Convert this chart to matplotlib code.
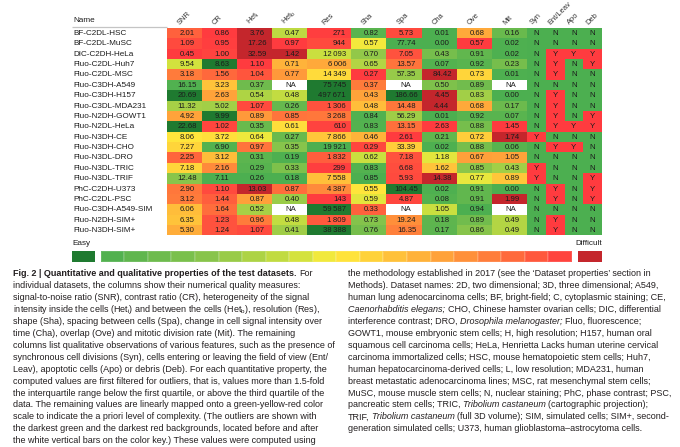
import numpy as np
import matplotlib
matplotlib.use("Agg")
import matplotlib.pyplot as plt
from matplotlib.colors import LinearSegmentedColormap, Normalize

# ---------------- data ----------------
names = ["BF-C2DL-HSC", "BF-C2DL-MuSC", "DIC-C2DH-HeLa", "Fluo-C2DL-Huh7", "Fluo-C2DL-MSC",
         "Fluo-C3DH-A549", "Fluo-C3DH-H157", "Fluo-C3DL-MDA231", "Fluo-N2DH-GOWT1", "Fluo-N2DL-HeLa",
         "Fluo-N3DH-CE", "Fluo-N3DH-CHO", "Fluo-N3DL-DRO", "Fluo-N3DL-TRIC", "Fluo-N3DL-TRIF",
         "PhC-C2DH-U373", "PhC-C2DL-PSC", "Fluo-C3DH-A549-SIM", "Fluo-N2DH-SIM+", "Fluo-N3DH-SIM+"]

headers = ["SNR", "CR", r"Het$_\mathregular{i}$", r"Het$_\mathregular{b}$", "Res", "Sha", "Spa",
           "Cha", "Ove", "Mit", "Syn", "Ent/Leav", "Apo", "Deb"]

snr = [2.01, 1.09, 0.45, 9.54, 3.18, 16.15, 20.69, 11.32, 4.92, 22.68, 8.06, 7.27, 2.25, 7.18, 12.48, 2.90, 3.12, 6.06, 6.35, 5.30]
cr = [0.86, 0.95, 1.00, 8.63, 1.56, 3.23, 2.63, 5.02, 9.99, 1.02, 3.72, 6.90, 3.12, 2.16, 7.11, 1.10, 1.44, 1.64, 1.23, 1.24]
het_i = [3.76, 17.26, 32.59, 1.10, 1.04, 0.37, 0.54, 1.07, 0.89, 0.35, 0.64, 0.97, 0.31, 0.29, 0.26, 13.03, 0.87, 0.52, 0.96, 1.07]
het_b = [0.47, 0.97, 1.42, 0.71, 0.77, None, 0.48, 0.26, 0.85, 0.61, 0.27, 0.35, 0.19, 0.33, 0.18, 0.87, 0.40, None, 0.48, 0.41]
res = [271, 944, 12093, 6006, 14349, 75745, 497671, 1306, 3268, 610, 7866, 19921, 1832, 299, 7558, 4387, 143, 59587, 1809, 38388]
sha = [0.82, 0.57, 0.70, 0.65, 0.27, 0.37, 0.43, 0.48, 0.84, 0.83, 0.46, 0.29, 0.62, 0.83, 0.85, 0.55, 0.59, 0.33, 0.73, 0.76]
spa = [5.73, 77.74, 7.05, 13.57, 57.35, None, 186.66, 14.48, 56.29, 13.15, 2.61, 33.39, 7.18, 6.68, 5.93, 104.45, 4.87, None, 19.24, 16.35]
cha = [0.01, 0.00, 0.43, 0.07, 84.42, 0.50, 4.45, 4.44, 0.01, 2.63, 0.21, 0.02, 1.18, 1.62, 14.38, 0.02, 0.08, 1.05, 0.18, 0.17]
ove = [0.68, 0.57, 0.91, 0.92, 0.73, 0.89, 0.83, 0.68, 0.92, 0.88, 0.72, 0.88, 0.67, 0.85, 0.77, 0.91, 0.91, 0.94, 0.89, 0.86]
mit = [0.16, 0.02, 0.02, 0.23, 0.01, None, 0.00, 0.17, 0.07, 1.45, 1.74, 0.06, 1.05, 0.43, 0.89, 0.00, 1.99, None, 0.49, 0.49]

syn = "NNNNNNNNNNYNNYYNNNNN"
ent_leav = "NNYYYNYYYYNYNNNYYNYY"
apo = "NNYNNNNNNYNYNNNNNNNN"
deb = "NNYYNNNNYYNNNNYYYNNN"

# difficulty level (0 green .. 1 red; -1 darkest green, 2 darkest red)
snr_lvl = [0.90, 0.96, 1.00, 0.42, 0.83, 0.02, -1, 0.31, 0.72, -1, 0.52, 0.57, 0.89, 0.57, 0.23, 0.84, 0.83, 0.64, 0.62, 0.69]
cr_lvl = [1.00, 0.99, 0.98, -1, 0.88, 0.62, 0.72, 0.30, -1, 0.97, 0.54, 0.03, 0.64, 0.79, 0.00, 0.96, 0.91, 0.87, 0.94, 0.94]
het_i_lvl = [2, 2, 2, 1.00, 0.93, 0.13, 0.33, 0.96, 0.75, 0.11, 0.47, 0.85, 0.06, 0.04, 0.00, 2, 0.73, 0.31, 0.83, 0.96]
het_b_lvl = [0.37, 1.00, 2, 0.67, 0.75, None, 0.38, 0.10, 0.85, 0.54, 0.11, 0.22, 0.01, 0.19, 0.00, 0.87, 0.28, None, 0.38, 0.29]
res_lvl = [0.99, 0.96, 0.40, 0.70, 0.55, -1, -1, 0.94, 0.84, 0.98, 0.61, 0.00, 0.91, 0.99, 0.63, 0.79, 1.00, -1, 0.92, -1]
sha_lvl = [0.05, 0.48, 0.26, 0.34, 1.00, 0.83, 0.72, 0.64, 0.02, 0.03, 0.67, 0.97, 0.40, 0.03, 0.00, 0.52, 0.45, 0.90, 0.21, 0.16]
spa_lvl = [0.96, 0.00, 0.94, 0.85, 0.27, None, -1, 0.84, 0.29, 0.86, 1.00, 0.59, 0.94, 0.95, 0.96, -1, 0.97, None, 0.78, 0.82]
cha_lvl = [0.00, 0.00, 0.16, 0.03, 2, 0.19, 2, 2, 0.00, 1.00, 0.08, 0.01, 0.45, 0.62, 2, 0.01, 0.03, 0.40, 0.07, 0.06]
ove_lvl = [0.70, 1.00, 0.08, 0.05, 0.57, 0.14, 0.30, 0.70, 0.05, 0.16, 0.59, 0.16, 0.73, 0.24, 0.46, 0.08, 0.08, 0.00, 0.14, 0.22]
mit_lvl = [0.11, 0.01, 0.01, 0.16, 0.01, None, 0.00, 0.12, 0.05, 1.00, 2, 0.04, 0.72, 0.30, 0.61, 0.00, 2, None, 0.34, 0.34]

key_steps = 20

left_lines = [
    [("Fig. 2 | Quantitative and qualitative properties of the test datasets.", "b"), (" For", "")],
    [("individual datasets, the columns show their numerical quality measures:", "")],
    [("signal-to-noise ratio (SNR), contrast ratio (CR), heterogeneity of the signal", "")],
    [(r"intensity inside the cells (Het$_\mathregular{i}$) and between the cells (Het$_\mathregular{b}$), resolution (Res),", "")],
    [("shape (Sha), spacing between cells (Spa), change in cell signal intensity over", "")],
    [("time (Cha), overlap (Ove) and mitotic division rate (Mit). The remaining", "")],
    [("columns list qualitative observations of various features, such as the presence of", "")],
    [("synchronous cell divisions (Syn), cells entering or leaving the field of view (Ent/", "")],
    [("Leav), apoptotic cells (Apo) or debris (Deb). For each quantitative property, the", "")],
    [("computed values are first filtered for outliers, that is, values more than 1.5-fold", "")],
    [("the interquartile range below the first quartile, or above the third quartile of the", "")],
    [("data. The remaining values are linearly mapped onto a green-yellow-red color", "")],
    [("scale to indicate the a priori level of complexity. (The outliers are shown with", "")],
    [("the darkest green and the darkest red backgrounds, located before and after", "")],
    [("the white vertical bars on the color key.) These values were computed using", "")],
]
right_lines = [
    [("the methodology established in 2017 (see the \u2018Dataset properties\u2019 section in", "")],
    [("Methods). Dataset names: 2D, two dimensional; 3D, three dimensional; A549,", "")],
    [("human lung adenocarcinoma cells; BF, bright-field; C, cytoplasmic staining; CE,", "")],
    [("Caenorhabditis elegans;", "i"), (" CHO, Chinese hamster ovarian cells; DIC, differential", "")],
    [("interference contrast; DRO,", ""), (" Drosophila melanogaster;", "i"), (" Fluo, fluorescence;", "")],
    [("GOWT1, mouse embryonic stem cells; H, high resolution; H157, human oral", "")],
    [("squamous cell carcinoma cells; HeLa, Henrietta Lacks human uterine cervical", "")],
    [("carcinoma immortalized cells; HSC, mouse hematopoietic stem cells; Huh7,", "")],
    [("human hepatocarcinoma-derived cells; L, low resolution; MDA231, human", "")],
    [("breast metastatic adenocarcinoma lines; MSC, rat mesenchymal stem cells;", "")],
    [("MuSC, mouse muscle stem cells; N, nuclear staining; PhC, phase contrast; PSC,", "")],
    [("pancreatic stem cells; TRIC,", ""), (" Tribolium castaneum", "i"), (" (cartographic projection);", "")],
    [("TRIF,", ""), (" Tribolium castaneum", "i"), (" (full 3D volume); SIM, simulated cells; SIM+, second-", "")],
    [("generation simulated cells; U373, human glioblastoma\u2013astrocytoma cells.", "")],
]

# ---------------- figure ----------------
W, H = 680, 447
fig = plt.figure(figsize=(W / 100, H / 100), dpi=100)
ax = fig.add_axes([0, 0, 1, 1])
ax.set_xlim(0, W)
ax.set_ylim(H, 0)
ax.axis("off")

tfam = ["Liberation Sans", "DejaVu Sans"]
capfam = ["Liberation Sans", "DejaVu Sans"]
ink = "#1c1c1c"

cmap = LinearSegmentedColormap.from_list("gyr", [
    (0.00, "#4CAF50"), (0.25, "#8FC74A"), (0.42, "#D2E23E"), (0.50, "#FFEC3B"),
    (0.62, "#FFC33A"), (0.75, "#FF9A3A"), (0.88, "#FF693C"), (1.00, "#FF3B3F")])
cmap.set_under("#1F7A30")
cmap.set_over("#C4262C")
cmap.set_bad("white")
norm = Normalize(0, 1)

num_cols = [snr, cr, het_i, het_b, res, sha, spa, cha, ove, mit]
num_lvls = [snr_lvl, cr_lvl, het_i_lvl, het_b_lvl, res_lvl, sha_lvl, spa_lvl, cha_lvl, ove_lvl, mit_lvl]
qual_cols = [syn, ent_leav, apo, deb]

n = len(names)
ncol = len(headers)
M = np.full((n, ncol), np.nan)
for j, lv in enumerate(num_lvls):
    M[:, j] = [np.nan if v is None else v for v in lv]
for k, q in enumerate(qual_cols):
    M[:, len(num_cols) + k] = [1.0 if c == "Y" else 0.0 for c in q]

xe = np.array([167, 202, 237, 272, 307, 351, 386, 422, 457, 492, 527, 546, 564.5, 583, 602])
top, rh = 28.0, 10.37
ye = top + rh * np.arange(n + 1)
ax.pcolormesh(xe, ye, np.ma.masked_invalid(M), cmap=cmap, norm=norm, shading="flat",
              antialiased=False, edgecolors="none", snap=True)

# row names
for i, nm in enumerate(names):
    ax.text(73, ye[i] + rh / 2 + 0.3, nm, fontsize=5.9, family=tfam, color=ink, va="center", ha="left")

# header
ax.text(73, 21, "Name", fontsize=5.9, family=tfam, color=ink, va="center", ha="left")
ax.plot([72, 167], [27.4, 27.4], color="#c4c4c4", lw=0.9, solid_capstyle="butt")
for j, h in enumerate(headers):
    cx = (xe[j] + xe[j + 1]) / 2
    ax.text(cx - 4.5, 25.0, h, fontsize=5.4, family=tfam, color="#333333", rotation=45,
            rotation_mode="anchor", ha="left", va="baseline")

# cell texts
for j, col in enumerate(num_cols):
    for i, v in enumerate(col):
        yc = ye[i] + rh / 2 + 0.3
        if v is None:
            ax.text((xe[j] + xe[j + 1]) / 2 + 1.5, yc, "NA", fontsize=5.6, family=tfam, color=ink,
                    ha="center", va="center")
        elif j == 4:
            s = f"{v:,}".replace(",", "\u2009")
            ax.text(xe[j + 1] - 5, yc, s, fontsize=5.6, family=tfam, color=ink, ha="right", va="center")
        else:
            ax.text((xe[j] + xe[j + 1]) / 2 + 2.5, yc, f"{v:.2f}", fontsize=5.6, family=tfam, color=ink,
                    ha="center", va="center")
for k, q in enumerate(qual_cols):
    j = len(num_cols) + k
    for i, c in enumerate(q):
        ax.text((xe[j] + xe[j + 1]) / 2, ye[i] + rh / 2 + 0.3, c, fontsize=5.6, family=tfam, color=ink,
                ha="center", va="center")

# colour key
ky0, ky1 = 251.3, 261.5
kx = np.linspace(100.7, 572, key_steps + 1)
kv = ((np.arange(key_steps) + 0.5) / key_steps)[None, :]
ax.pcolormesh(kx, [ky0, ky1], kv, cmap=cmap, norm=norm, shading="flat",
              edgecolors=(1, 1, 1, 0.12), linewidth=0.25)
ax.pcolormesh([72, 95], [ky0, ky1], [[-1.0]], cmap=cmap, norm=norm, shading="flat", edgecolors="none")
ax.pcolormesh([578, 602], [ky0, ky1], [[2.0]], cmap=cmap, norm=norm, shading="flat", edgecolors="none")
ax.text(72, 243.5, "Easy", fontsize=5.9, family=tfam, color=ink, ha="left", va="center")
ax.text(602, 243.5, "Difficult", fontsize=5.9, family=tfam, color=ink, ha="right", va="center")

# ---------------- caption ----------------
renderer = fig.canvas.get_renderer()


def text_w(s, size, weight="normal", style="normal"):
    t = ax.text(0, 0, s, fontsize=size, family=capfam, fontweight=weight, fontstyle=style)
    w = t.get_window_extent(renderer).width
    t.remove()
    return w


cap_size = 10 * 323.0 / text_w(left_lines[6][0][0], 10)
space_w = text_w("n n", cap_size) - text_w("nn", cap_size)


def draw_line(x, y, pieces):
    for idx, (txt, st) in enumerate(pieces):
        if txt.startswith(" "):
            x += space_w
        core = txt.strip(" ")
        t = ax.text(x, y, core, fontsize=cap_size, family=capfam,
                    fontweight="bold" if "b" in st else "normal",
                    fontstyle="italic" if "i" in st else "normal",
                    color="#231F20", ha="left", va="baseline")
        x += t.get_window_extent(renderer).width
        if txt.endswith(" "):
            x += space_w


base0, lh = 276.0, 11.95
for i, ln in enumerate(left_lines):
    draw_line(13, base0 + i * lh, ln)
for i, ln in enumerate(right_lines):
    draw_line(348, base0 + i * lh, ln)

fig.savefig("out.png", dpi=100, facecolor="white")
